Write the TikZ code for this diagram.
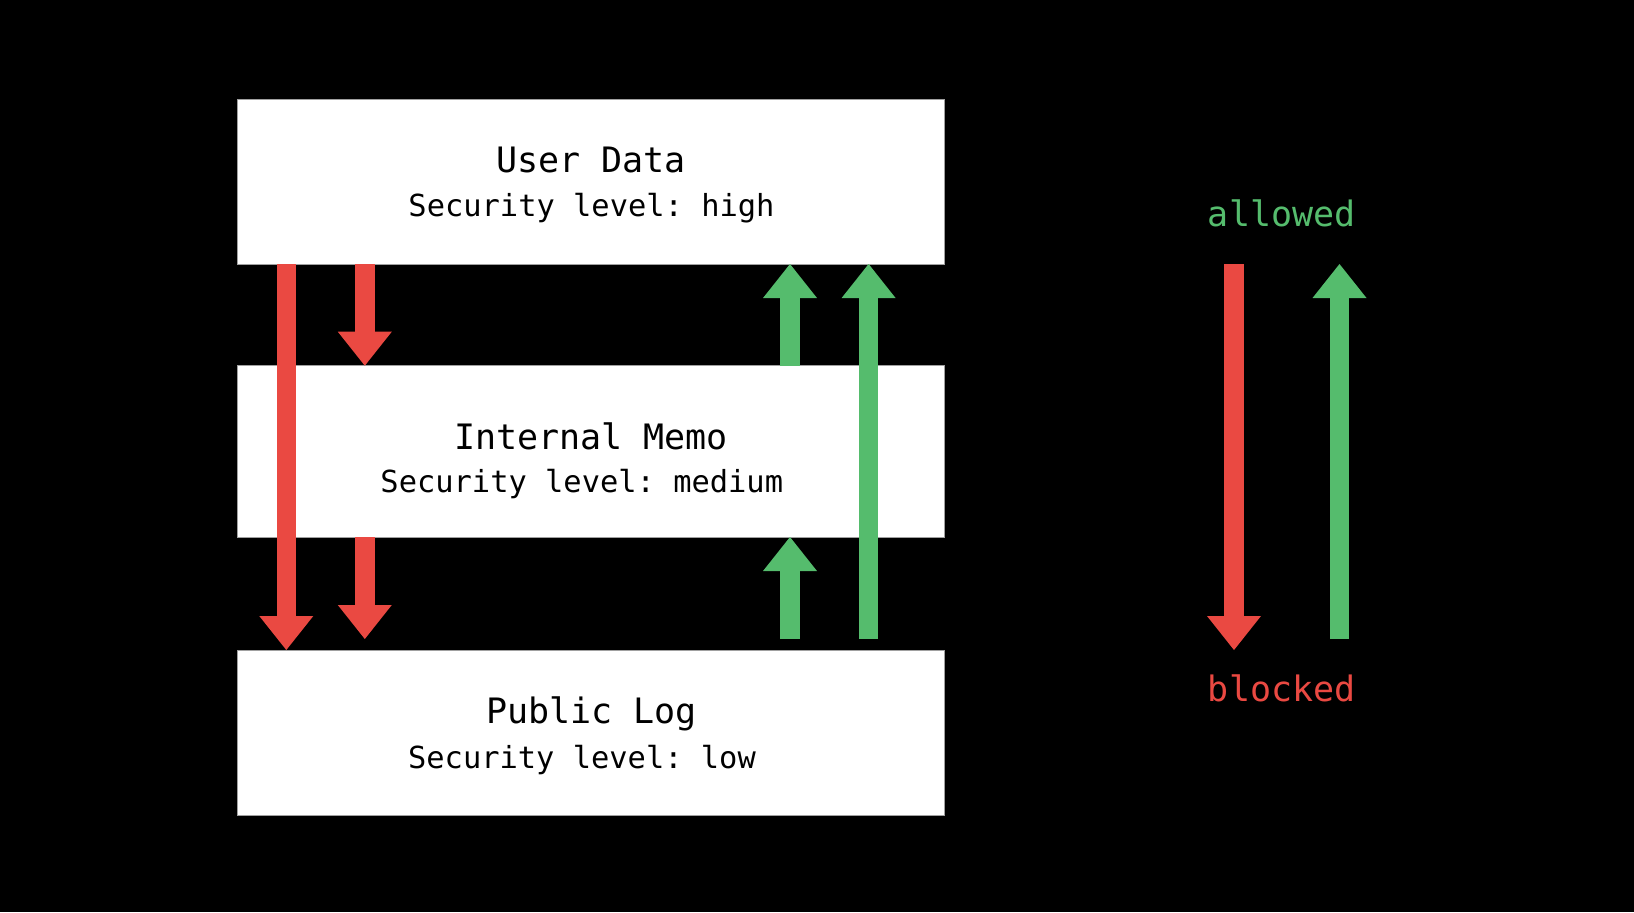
\documentclass[tikz,border=0pt]{standalone}
\usepackage{fontspec}
\setmonofont{DejaVu Sans Mono}
\usetikzlibrary{arrows.meta,calc}
\definecolor{flowred}{RGB}{234,73,66}
\definecolor{flowgreen}{RGB}{85,188,109}
\tikzset{
  levelbox/.style={rectangle,fill=white,draw={rgb,255:red,160;green,160;blue,160},line width=0.5pt,inner sep=0pt,outer sep=0pt,anchor=north west,minimum width=353.2pt},
  boxtitle/.style={inner sep=0pt,outer sep=0pt,anchor=base,text=black,font=\ttfamily\fontsize{17.5}{21}\selectfont},
  boxlevel/.style={inner sep=0pt,outer sep=0pt,anchor=base,text=black,font=\ttfamily\fontsize{15.2}{18.2}\selectfont},
  legendtext/.style={inner sep=0pt,outer sep=0pt,anchor=base,font=\ttfamily\fontsize{17.5}{21}\selectfont},
  flowarrow/.style={line width=9.75pt,-{Triangle[width=27pt,length=17pt,line width=0pt]}},
  flowdown/.style={flowarrow,draw=flowred},
  flowup/.style={flowarrow,draw=flowgreen}
}
\begin{document}
\begin{tikzpicture}[x=.5pt,y=-.5pt]
\path[use as bounding box,fill=black] (0,0) rectangle (1634,912);
% security levels
\node[levelbox,minimum height=82.5pt] (user) at (237.6,99) {};
\node[levelbox,minimum height=85.65pt] (memo) at (237.6,365.7) {};
\node[levelbox,minimum height=82.5pt] (public) at (237.6,650) {};
\node[boxtitle] (usertitle) at (591,172.7) {User Data};
\node[boxlevel] (userlevel) at (591.5,216.7) {Security level: high};
\node[boxtitle] (memotitle) at (591,449.3) {Internal Memo};
\node[boxlevel] (memolevel) at (581.8,492.7) {Security level: medium};
\node[boxtitle] (publictitle) at (591.6,723.3) {Public Log};
\node[boxlevel] (publiclevel) at (582,768.3) {Security level: low};
% arrow columns
\coordinate (downlong) at (286.3,0);
\coordinate (downshort) at (364.8,0);
\coordinate (upshort) at (790,0);
\coordinate (uplong) at (868.6,0);
\coordinate (legenddown) at (1234,0);
\coordinate (legendup) at (1339.5,0);
% flows
\draw[flowdown] (downlong |- user.south) -- (downlong |- public.north);
\draw[flowdown] (downshort |- user.south) -- (downshort |- memo.north);
\draw[flowdown] (downshort |- memo.south) -- ($(downshort |- public.north)+(0,-11)$);
\draw[flowup] (upshort |- memo.north) -- (upshort |- user.south);
\draw[flowup] ($(upshort |- public.north)+(0,-11)$) -- (upshort |- memo.south);
\draw[flowup] ($(uplong |- public.north)+(0,-11)$) -- (uplong |- user.south);
% legend
\node[legendtext,text=flowgreen] (allowedlabel) at (1281.7,226.5) {allowed};
\node[legendtext,text=flowred] (blockedlabel) at (1281.7,701.7) {blocked};
\draw[flowdown] (legenddown |- user.south) -- (legenddown |- public.north);
\draw[flowup] ($(legendup |- public.north)+(0,-11)$) -- (legendup |- user.south);
\end{tikzpicture}
\end{document}
